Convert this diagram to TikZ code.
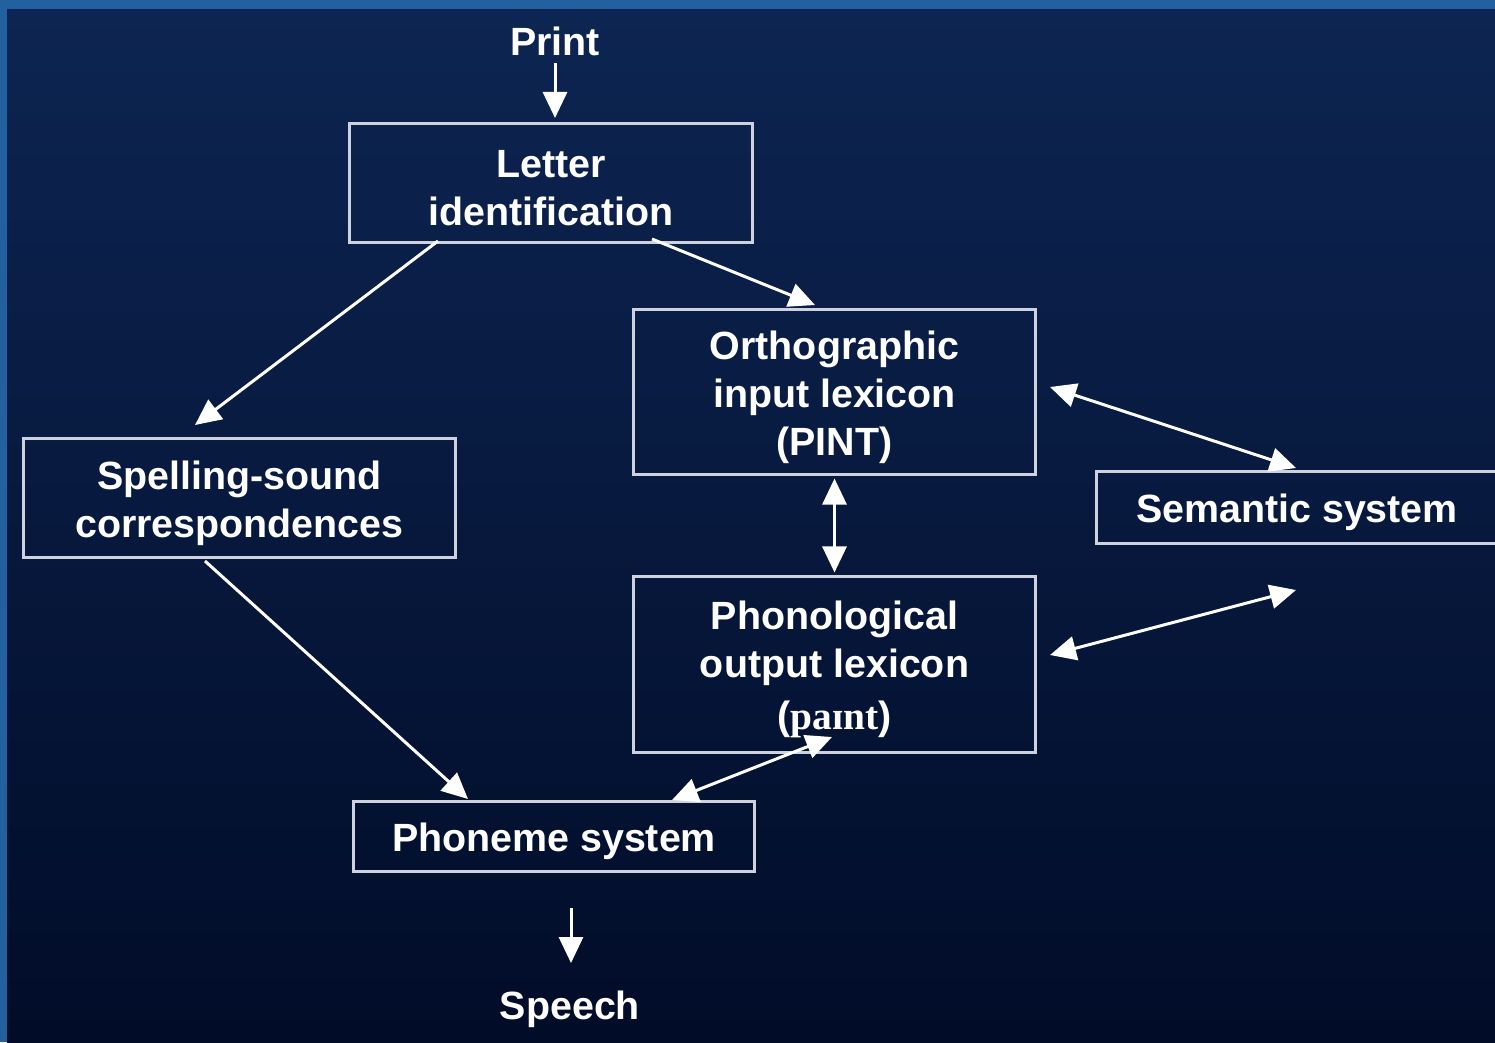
\documentclass[tikz,border=0pt]{standalone}
\usepackage{fontspec}
\setmainfont{Liberation Sans}
\newfontfamily\ipafont{Liberation Serif}
\usetikzlibrary{arrows.meta,calc}

\definecolor{edgeblue}{RGB}{34,96,160}
\definecolor{bgtop}{RGB}{13,37,82}
\definecolor{bgmid}{RGB}{19,42,94}
\definecolor{bgbot}{RGB}{1,12,40}
\definecolor{framegray}{RGB}{205,210,222}

\tikzset{
  tip/.tip={Triangle[length=0.26cm,width=0.24cm]},
  labeltext/.style={text=white, inner sep=0pt, align=center,
    font=\fontsize{11.2}{13.66}\selectfont\bfseries},
  boxtext/.style={labeltext, yshift=-0.05cm},
  box/.style={draw=framegray, line width=0.03cm, inner sep=0pt},
  arr/.style={draw=white, line width=0.03cm, -tip},
  biarr/.style={draw=white, line width=0.03cm, tip-tip},
}

\begin{document}
\begin{tikzpicture}[x=0.01cm, y=-0.01cm]
  \useasboundingbox (0,0) rectangle (1495,1042);
  \clip (0,0) rectangle (1495,1042);

  % slide background: textured blue rim and dark navy gradient
  \fill[edgeblue] (0,0) rectangle (1495,1042);
  \shade[top color=bgtop, middle color=bgmid, bottom color=bgbot]
    (7,9) rectangle (1495,1042);

  % process boxes, each with its caption centred inside
  \node[box, minimum width=4.02cm, minimum height=1.18cm,
    label={[boxtext]center:Letter\\identification}] (letter) at (551,183) {};
  \node[box, minimum width=4.01cm, minimum height=1.64cm,
    label={[boxtext]center:Orthographic\\input lexicon\\(PINT)}] (orth) at (834.5,392) {};
  \node[box, minimum width=4.31cm, minimum height=1.18cm,
    label={[boxtext]center:Spelling-sound\\correspondences}] (spell) at (239.5,498) {};
  \node[box, minimum width=4.00cm, minimum height=0.71cm,
    label={[boxtext]center:Semantic system}] (sem) at (1297,507.5) {};
  \node[box, minimum width=4.01cm, minimum height=1.75cm,
    label={[boxtext]center:Phonological\\output lexicon\\[0.04cm]({\ipafont\bfseries pa\char"026A nt})}]
    (phon) at (834.5,664.5) {};
  \node[box, minimum width=4.00cm, minimum height=0.70cm,
    label={[boxtext]center:Phoneme system}] (phoneme) at (554,836) {};

  % input and output labels
  \node[labeltext] (print) at (555,41) {Print};
  \node[labeltext] (speech) at (570,1009) {Speech};

  % free ends of the connectors
  \coordinate (printtip) at (555,118);
  \coordinate (printtail) at (555,63);
  \coordinate (speechtail) at (571,908);
  \coordinate (speechtip) at (571,963);
  \coordinate (l2s) at (438,241);
  \coordinate (s-in) at (195,425);
  \coordinate (l2o) at (652,239);
  \coordinate (o-in) at (815,305);
  \coordinate (o-sem) at (1050,387);
  \coordinate (sem-top) at (1296,468);
  \coordinate (p-sem) at (1050,655);
  \coordinate (sem-low) at (1296,590);
  \coordinate (s2p) at (205,561);
  \coordinate (pm-in) at (468,799);
  \coordinate (pm-out) at (672,800);
  \coordinate (ph-in) at (832,737);

  % connectors
  \draw[arr] (printtail) -- (printtip);
  \draw[arr] (l2s) -- (s-in);
  \draw[arr] (l2o) -- (o-in);
  \draw[biarr, shorten <=0.03cm, shorten >=0.03cm] (orth.south) -- (phon.north);
  \draw[biarr] (o-sem) -- (sem-top);
  \draw[biarr] (p-sem) -- (sem-low);
  \draw[arr] (s2p) -- (pm-in);
  \draw[biarr] (pm-out) -- (ph-in);
  \draw[arr] (speechtail) -- (speechtip);
\end{tikzpicture}
\end{document}
